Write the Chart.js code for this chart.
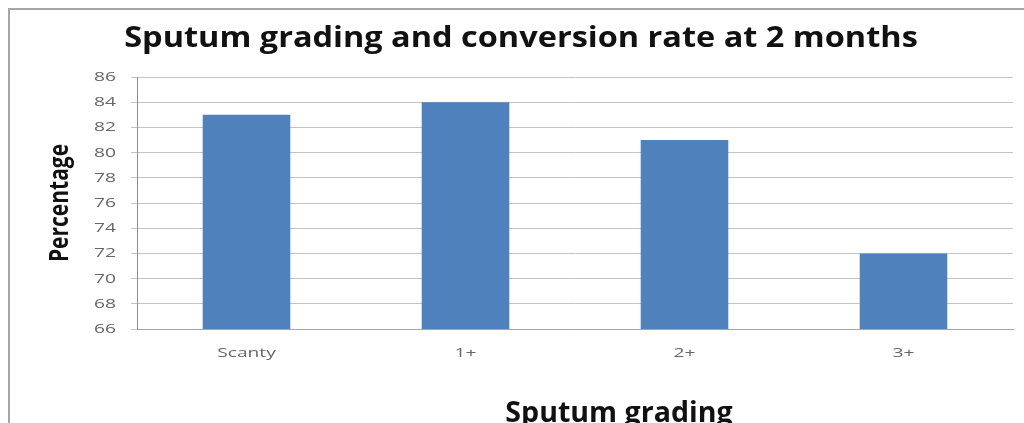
<!DOCTYPE html>
<html>
<head>
<meta charset="utf-8">
<style>
  html, body { margin: 0; padding: 0; background: #ffffff; }
  #wrap { position: relative; width: 1024px; height: 423px; }
  canvas { display: block; }
</style>
<script src="https://cdn.jsdelivr.net/npm/chart.js@4.4.1/dist/chart.umd.min.js"></script>
</head>
<body>
<div id="wrap"><canvas id="chart" width="1024" height="423"></canvas></div>
<script>
// Sputum grading categories and 2-month conversion rate (%)
const categories = ['Scanty', '1+', '2+', '3+'];
const conversionRate = [83, 84, 81, 72];
const yMin = 66;
const yMax = 86;
const yStep = 2;

const chartTitle = 'Sputum grading and conversion rate at 2 months';
const yAxisTitle = 'Percentage';
const xAxisTitle = 'Sputum grading';

const FONT = '"Open Sans", "DejaVu Sans", sans-serif';
const TICK_COLOR = '#666666';
const TICK_STRETCH = 1.6;   // wide, horizontally stretched tick lettering

// Draws text with a horizontal stretch factor around its anchor point
function wideText(ctx, text, x, y, stretch, align) {
  ctx.save();
  ctx.translate(x, y);
  ctx.scale(stretch, 1);
  ctx.textAlign = align;
  ctx.fillText(text, 0, 0);
  ctx.restore();
}

// Frame, tick labels and titles drawn around the plot area
const decorations = {
  id: 'decorations',
  beforeDraw(chart) {
    const ctx = chart.ctx;
    ctx.save();
    ctx.strokeStyle = '#a6a6a6';
    ctx.lineWidth = 2;
    ctx.beginPath();
    ctx.moveTo(9, 423);
    ctx.lineTo(9, 9);
    ctx.lineTo(1024, 9);
    ctx.stroke();
    ctx.restore();
  },
  afterDraw(chart) {
    const ctx = chart.ctx;
    const area = chart.chartArea;
    const xs = chart.scales.x;
    const ys = chart.scales.y;
    ctx.save();

    // tick labels, positioned by the chart's own scales
    ctx.fillStyle = TICK_COLOR;
    ctx.font = '12px ' + FONT;
    ctx.textBaseline = 'middle';
    ys.ticks.forEach((t, i) => {
      wideText(ctx, String(t.value), ys.right - 21, ys.getPixelForTick(i) + 0.5, TICK_STRETCH, 'right');
    });
    xs.ticks.forEach((t, i) => {
      wideText(ctx, xs.getLabelForValue(t.value), xs.getPixelForTick(i), area.bottom + 25, TICK_STRETCH, 'center');
    });

    // titles
    ctx.fillStyle = '#111111';
    ctx.textBaseline = 'alphabetic';
    ctx.font = 'bold 28px ' + FONT;
    wideText(ctx, chartTitle, 521, 47, 1.16, 'center');
    wideText(ctx, xAxisTitle, 619, 422, 1.02, 'center');

    ctx.font = 'bold 21px ' + FONT;
    ctx.textBaseline = 'middle';
    ctx.translate(61, (area.top + area.bottom) / 2);
    ctx.scale(1.25, 1);
    ctx.rotate(-Math.PI / 2);
    ctx.textAlign = 'center';
    ctx.fillText(yAxisTitle, 0, 0);
    ctx.restore();
  }
};

new Chart(document.getElementById('chart'), {
  type: 'bar',
  data: {
    labels: categories,
    datasets: [{
      data: conversionRate,
      backgroundColor: '#4f81bd',
      borderWidth: 0,
      barPercentage: 0.4,
      categoryPercentage: 1.0
    }]
  },
  options: {
    responsive: false,
    animation: false,
    layout: { padding: { left: 87, top: 77, right: 11, bottom: 54 } },
    plugins: {
      legend: { display: false },
      tooltip: { enabled: false },
      title: { display: false }
    },
    scales: {
      x: {
        grid: { display: false },
        border: { display: true, color: '#a6a6a6', width: 1 },
        ticks: { display: false },
        afterFit(scale) { scale.height = 40; }
      },
      y: {
        min: yMin,
        max: yMax,
        grid: { color: '#c4c4c4', lineWidth: 1, tickLength: 6, drawTicks: true },
        border: { display: true, color: '#8c8c8c', width: 1 },
        ticks: { display: false, stepSize: yStep },
        afterFit(scale) { scale.width = 50; }
      }
    }
  },
  plugins: [decorations]
});
</script>
</body>
</html>
